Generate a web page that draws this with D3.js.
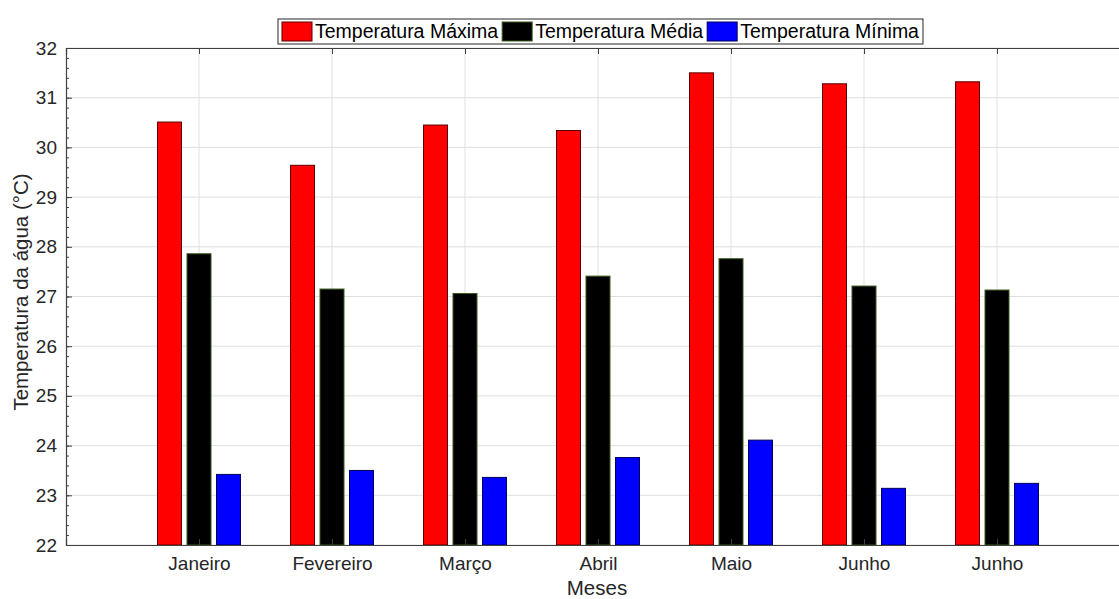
<!DOCTYPE html>
<html>
<head>
<meta charset="utf-8">
<script src="https://d3js.org/d3.v7.min.js"></script>
<style>
  body {margin:0; background:#fff;}
  svg {font-family: "Liberation Sans", Arial, sans-serif; display:block;}
</style>
</head>
<body>
<div id="chart"></div>
<script>
// data
var meses = ["Janeiro", "Fevereiro", "Março", "Abril", "Maio", "Junho", "Junho"];
var tempMax = [30.51, 29.64, 30.45, 30.34, 31.50, 31.28, 31.32];
var tempMed = [27.86, 27.15, 27.06, 27.41, 27.76, 27.21, 27.13];
var tempMin = [23.42, 23.50, 23.36, 23.76, 24.11, 23.14, 23.24];
var seriesNames = ["Temperatura Máxima", "Temperatura Média", "Temperatura Mínima"];
var seriesColors = ["#ff0000", "#000000", "#0000ff"];
var edgeColors = ["#5a0000", "#3a5a1a", "#00005a"];
var yTicks = [22, 23, 24, 25, 26, 27, 28, 29, 30, 31, 32];

var W = 1119, H = 599;
var mLeft = 66, mRight = 1130, mTop = 48, mBottom = 545;

var svg = d3.select("#chart").append("svg")
    .attr("width", W)
    .attr("height", H);

var x = d3.scaleLinear().domain([0, meses.length + 1]).range([mLeft, mRight]);
var y = d3.scaleLinear().domain([22, 32]).range([mBottom, mTop]);

// grid
svg.append("g").selectAll("line").data(yTicks).enter()
    .append("line")
    .attr("x1", mLeft).attr("x2", mRight)
    .attr("y1", function(d) {return y(d);})
    .attr("y2", function(d) {return y(d);})
    .attr("stroke", "#dfdfdf").attr("stroke-width", 1);
svg.append("g").selectAll("line").data(meses).enter()
    .append("line")
    .attr("x1", function(d, i) {return x(i + 1);})
    .attr("x2", function(d, i) {return x(i + 1);})
    .attr("y1", mTop).attr("y2", mBottom)
    .attr("stroke", "#dfdfdf").attr("stroke-width", 1);

// bars
var series = [tempMax, tempMed, tempMin];
var barW = 24, step = 29.5;
series.forEach(function(vals, s) {
    svg.append("g").selectAll("rect").data(vals).enter()
        .append("rect")
        .attr("x", function(d, i) {return x(i + 1) + (s - 1) * step - barW / 2;})
        .attr("y", function(d) {return y(d);})
        .attr("width", barW)
        .attr("height", function(d) {return y(22) - y(d);})
        .attr("fill", seriesColors[s])
        .attr("stroke", edgeColors[s])
        .attr("stroke-width", 1);
});

// axes
var yAxis = svg.append("g")
    .attr("transform", "translate(" + mLeft + ",0)")
    .call(d3.axisLeft(y).tickValues(yTicks).tickFormat(d3.format("d")).tickSize(-6).tickPadding(9));
var yMinor = svg.append("g")
    .attr("transform", "translate(" + mLeft + ",0)")
    .call(d3.axisLeft(y).tickValues(d3.range(22, 32.01, 0.2)).tickFormat("").tickSize(-3));
yMinor.select(".domain").remove();

var xAxis = svg.append("g")
    .attr("transform", "translate(0," + mBottom + ")")
    .call(d3.axisBottom(x).tickValues(d3.range(1, meses.length + 1))
        .tickFormat(function(d) {return meses[d - 1];}).tickSize(-6).tickPadding(10));
svg.append("g")
    .attr("transform", "translate(0," + mTop + ")")
    .call(d3.axisTop(x).tickValues(d3.range(1, meses.length + 1)).tickFormat("").tickSize(-6));

svg.selectAll(".domain").attr("stroke", "#404040").attr("stroke-width", 1.2);
svg.selectAll(".tick line").attr("stroke", "#404040");
svg.selectAll(".tick text").attr("font-size", 19).attr("fill", "#262626")
    .attr("font-family", "Liberation Sans, Arial, sans-serif");
xAxis.selectAll(".tick text").attr("dy", "0.8em");

// axis titles
svg.append("text")
    .attr("x", 597).attr("y", 595)
    .attr("text-anchor", "middle").attr("font-size", 20.5).attr("fill", "#262626")
    .text("Meses");
svg.append("text")
    .attr("transform", "translate(28,292) rotate(-90)")
    .attr("text-anchor", "middle").attr("font-size", 20.5).attr("fill", "#262626")
    .text("Temperatura da água (°C)");

// legend
var lg = svg.append("g");
var box = lg.append("rect")
    .attr("x", 278).attr("y", 19).attr("height", 25)
    .attr("fill", "#fff").attr("stroke", "#262626").attr("stroke-width", 1);
var cx = 282;
seriesNames.forEach(function(n, i) {
    lg.append("rect")
        .attr("x", cx).attr("y", 22).attr("width", 30).attr("height", 19)
        .attr("fill", seriesColors[i]).attr("stroke", edgeColors[i]);
    var t = lg.append("text")
        .attr("x", cx + 33).attr("y", 38)
        .attr("font-size", 19.5).attr("fill", "#000")
        .text(n);
    cx = cx + 33 + t.node().getComputedTextLength() + 4;
});
box.attr("width", cx - 278);
</script>
</body>
</html>
